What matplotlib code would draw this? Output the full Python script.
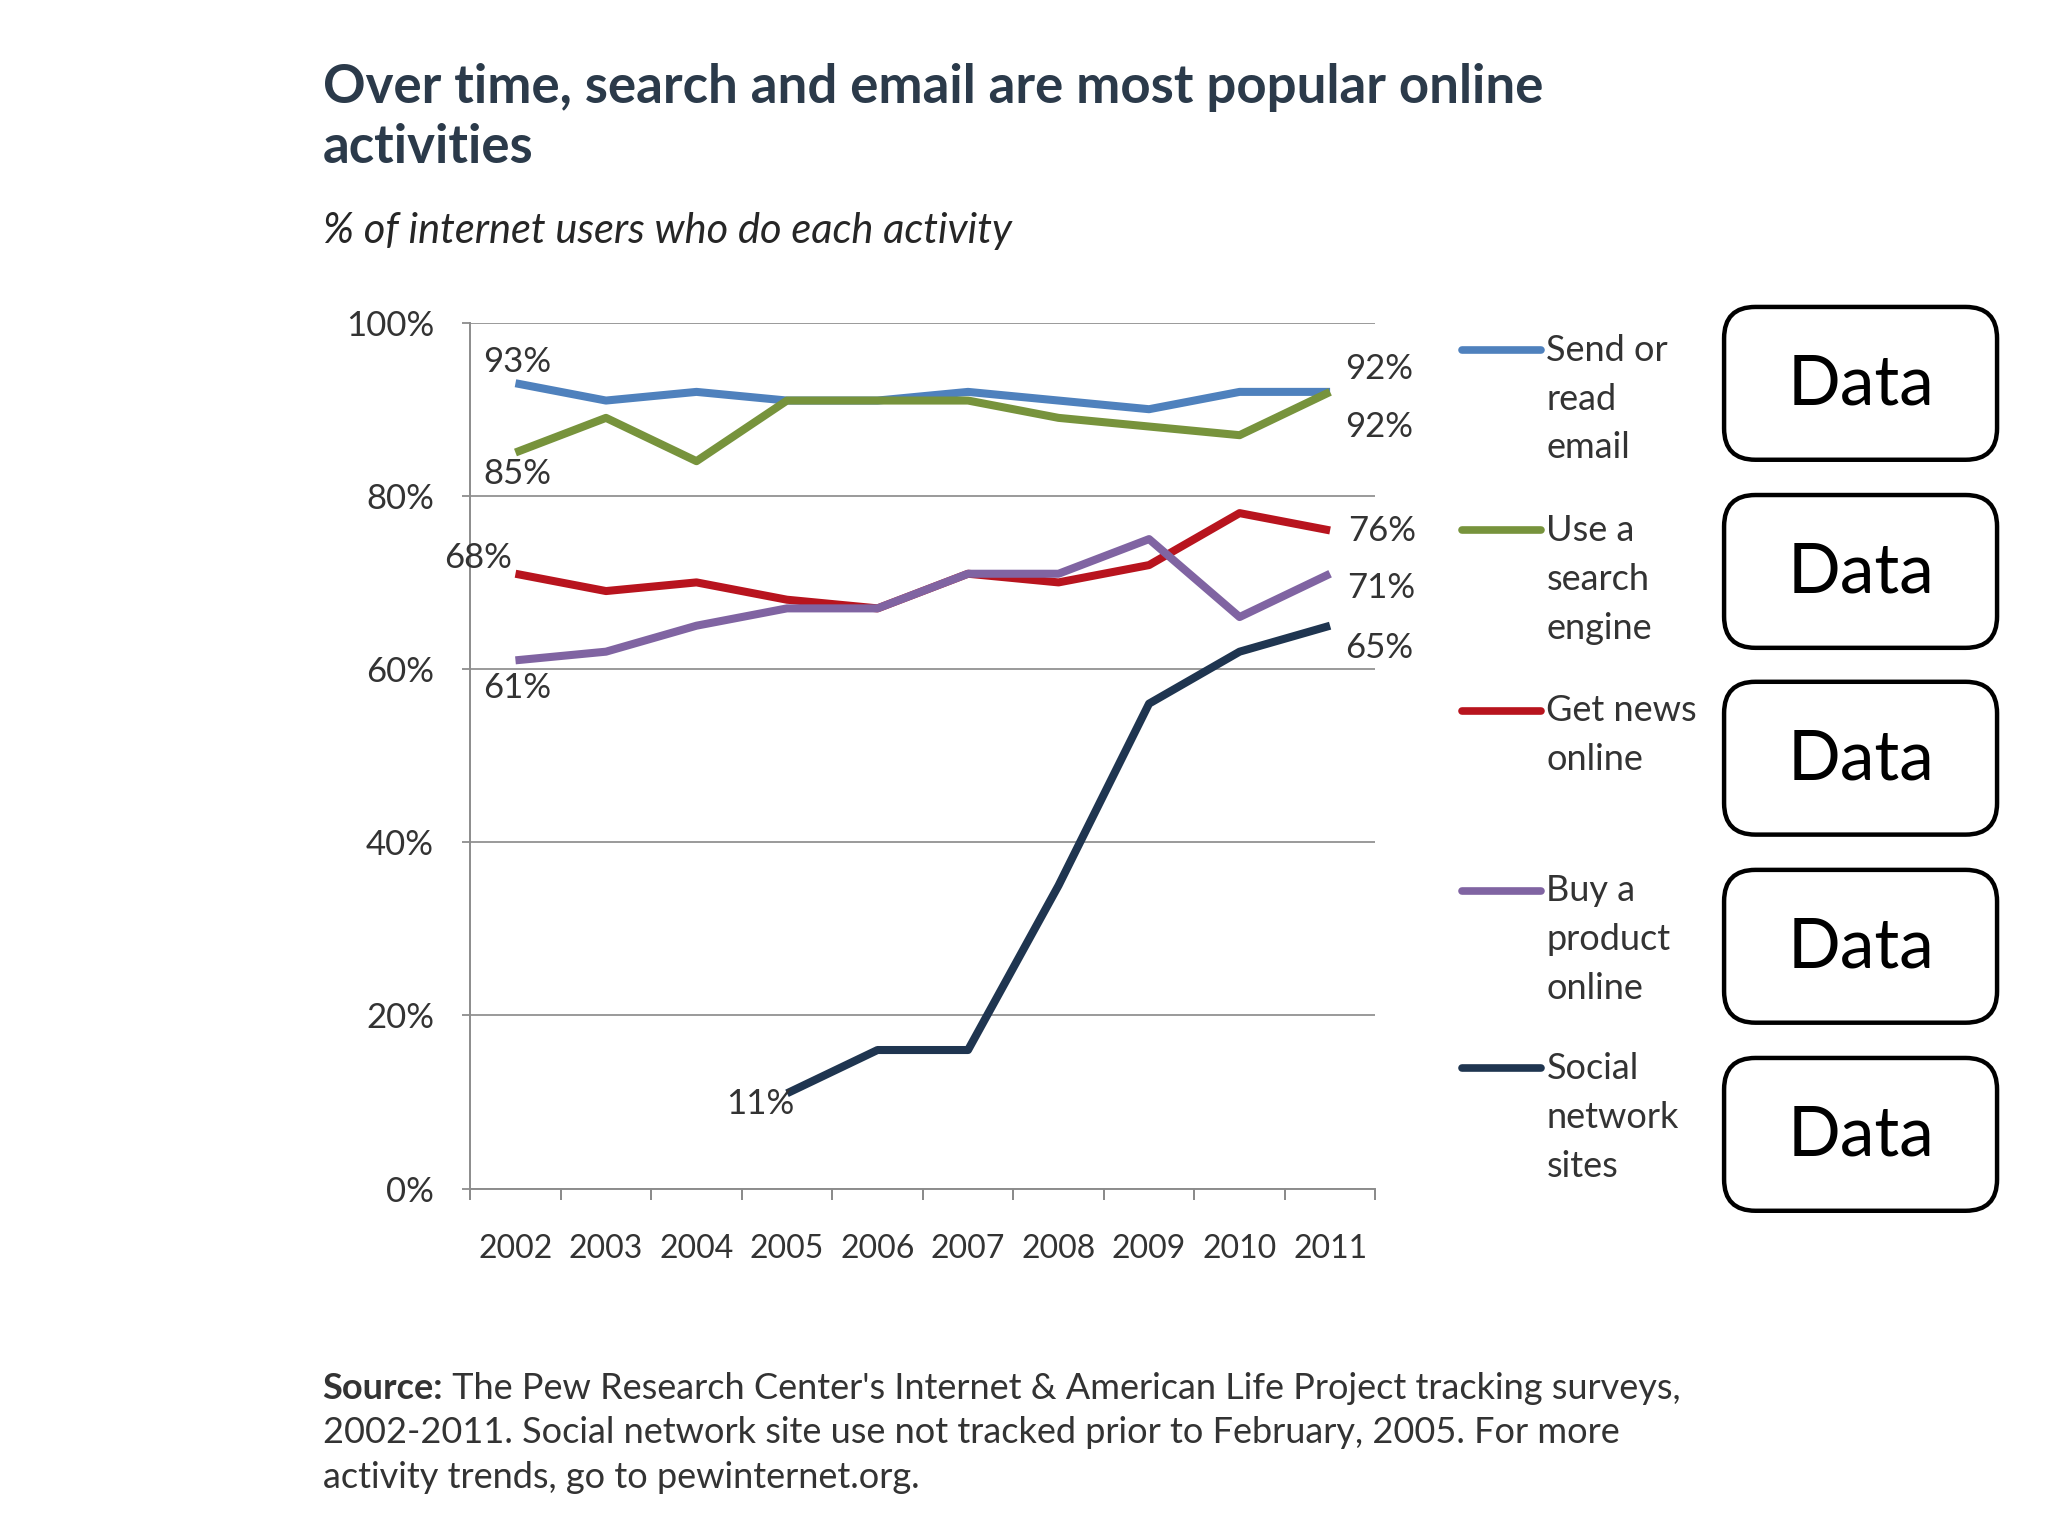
"""
plot.py - Pew internet activities 2002-2011, recreated with matplotlib.
"""

import matplotlib
matplotlib.use("Agg")
import matplotlib.pyplot as plt
from matplotlib.patches import FancyBboxPatch

YEARS = ["2002", "2003", "2004", "2005", "2006", "2007", "2008", "2009", "2010", "2011"]

EMAIL = [93, 91, 92, 91, 91, 92, 91, 90, 92, 92]
SEARCH = [85, 89, 84, 91, 91, 91, 89, 88, 87, 92]
NEWS = [71, 69, 70, 68, 67, 71, 70, 72, 78, 76]
BUY = [61, 62, 65, 67, 67, 71, 71, 75, 66, 71]
SOCIAL = [None, None, None, 11, 16, 16, 35, 56, 62, 65]

SERIES_NAMES = ["Send or\nread\nemail", "Use a\nsearch\nengine", "Get news\nonline",
                "Buy a\nproduct\nonline", "Social\nnetwork\nsites"]
COLORS = ["#4F81BD", "#77933C", "#B8141E", "#8064A2", "#1F3550"]

Y_TICKS = [0, 20, 40, 60, 80, 100]

# (text, x index, y value) for the point labels
POINT_LABELS = [
    ("93%", 0.02, 95.5), ("85%", 0.02, 82.5), ("68%", -0.41, 72.8), ("61%", 0.02, 57.8),
    ("92%", 9.54, 94.6), ("92%", 9.54, 87.9), ("76%", 9.57, 75.9), ("71%", 9.57, 69.4),
    ("65%", 9.54, 62.4), ("11%", 2.70, 9.8),
]

TITLE_LINES = ["Over time, search and email are most popular online", "activities"]
SUBTITLE = "% of internet users who do each activity"
SOURCE_BOLD = "Source:"
SOURCE_LINES = [
    " The Pew Research Center's Internet & American Life Project tracking surveys,",
    "2002-2011. Social network site use not tracked prior to February, 2005. For more",
    "activity trends, go to pewinternet.org.",
]

FONT = ["Lato", "DejaVu Sans"]
W, H = 1568, 1176  # layout grid matching the reference proportions
TXT = "#333333"

plt.rcParams["font.family"] = FONT

fig = plt.figure(figsize=(20.48, 15.36), dpi=100)
fig.patch.set_facecolor("white")

# overlay canvas for free text, legend and boxes (coords in reference pixels)
cv = fig.add_axes([0, 0, 1, 1])
cv.set_xlim(0, W)
cv.set_ylim(H, 0)
cv.axis("off")
cv.patch.set_alpha(0)

ax = fig.add_axes([360 / W, 1 - 910 / H, (1053 - 360) / W, (910 - 247) / H])

x = list(range(len(YEARS)))
for vals, col in zip([EMAIL, SEARCH, NEWS, BUY, SOCIAL], COLORS):
    xs = [i for i, v in zip(x, vals) if v is not None]
    ys = [v for v in vals if v is not None]
    ax.plot(xs, ys, color=col, linewidth=5.8, solid_joinstyle="round",
            solid_capstyle="butt", zorder=3)

for txt, xi, yv in POINT_LABELS:
    ax.text(xi, yv, txt, ha="center", va="center", fontsize=25, color=TXT, zorder=5)

ax.set_xlim(-0.5, 9.5)
ax.set_ylim(0, 100)
ax.set_yticks(Y_TICKS)
ax.set_yticklabels([f"{t}%" for t in Y_TICKS])
ax.set_xticks(x)
ax.set_xticklabels(YEARS)
ax.set_xticks([i - 0.5 for i in range(len(YEARS) + 1)], minor=True)
ax.tick_params(axis="x", which="major", length=0, pad=33, labelsize=23, colors=TXT)
ax.tick_params(axis="x", which="minor", length=8, width=1.3, color="#7F7F7F", direction="out")
ax.tick_params(axis="y", length=6, width=1.3, color="#8C8C8C", pad=20, labelsize=25,
               labelcolor=TXT)
ax.grid(axis="y", color="#9A9A9A", linewidth=1.4, zorder=0)
for s in ["top", "right"]:
    ax.spines[s].set_visible(False)
for s in ["left", "bottom"]:
    ax.spines[s].set_color("#8C8C8C")
    ax.spines[s].set_linewidth(1.4)
ax.set_axisbelow(True)

# title and subtitle
for k, line in enumerate(TITLE_LINES):
    cv.text(247, 67 + k * 46, line, ha="left", va="center", fontsize=38,
            fontweight="bold", color="#2B3A4A")
cv.text(247, 177, SUBTITLE, ha="left", va="center", fontsize=30, style="italic",
        color="#262626")

# legend
legend_y = [268, 406, 544, 682, 818]
for name, col, y0 in zip(SERIES_NAMES, COLORS, legend_y):
    cv.plot([1119, 1180], [y0, y0], color=col, linewidth=5.5, solid_capstyle="round")
    for k, line in enumerate(name.split("\n")):
        cv.text(1184, y0 + k * 37.5, line, ha="left", va="center", fontsize=26, color=TXT)

# "Data" boxes
box_top = [235, 379, 522, 666, 810]
for y0 in box_top:
    cv.add_patch(FancyBboxPatch((1320, y0), 209, 117,
                                boxstyle="round,pad=0,rounding_size=24",
                                facecolor="white", edgecolor="black", linewidth=3.2))
    cv.text(1424.5, y0 + 60, "Data", ha="center", va="center", fontsize=50, color="black")

# source note
renderer = fig.canvas.get_renderer()
src = cv.text(247, 1063, SOURCE_BOLD, ha="left", va="center", fontsize=26,
              fontweight="bold", color=TXT)
bb = src.get_window_extent(renderer)
x_end = cv.transData.inverted().transform((bb.x1, bb.y0))[0]
cv.text(x_end, 1063, SOURCE_LINES[0], ha="left", va="center", fontsize=26, color=TXT)
cv.text(247, 1097, SOURCE_LINES[1], ha="left", va="center", fontsize=26, color=TXT)
cv.text(247, 1131, SOURCE_LINES[2], ha="left", va="center", fontsize=26, color=TXT)

fig.savefig("out.png", dpi=100, facecolor="white")
